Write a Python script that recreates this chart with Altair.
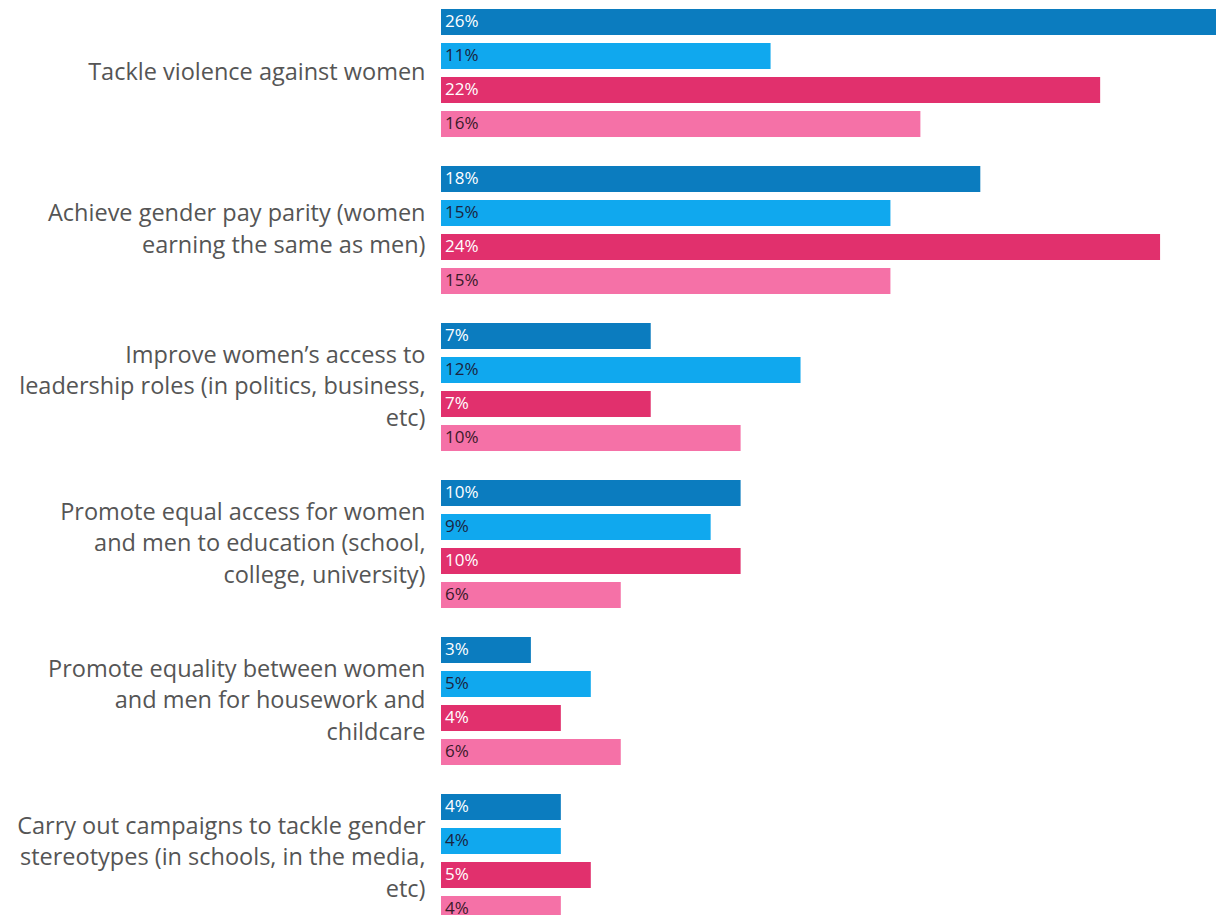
import altair as alt
import pandas as pd

categories = [
    "Tackle violence against women",
    "Achieve gender pay parity (women|earning the same as men)",
    "Improve women\u2019s access to|leadership roles (in politics, business,|etc)",
    "Promote equal access for women|and men to education (school,|college, university)",
    "Promote equality between women|and men for housework and|childcare",
    "Carry out campaigns to tackle gender|stereotypes (in schools, in the media,|etc)",
]
series = ["Series A", "Series B", "Series C", "Series D"]
values = {
    "Series A": [26, 18, 7, 10, 3, 4],
    "Series B": [11, 15, 12, 9, 5, 4],
    "Series C": [22, 24, 7, 10, 4, 5],
    "Series D": [16, 15, 10, 6, 6, 4],
}
bar_colors = ["#0b7cbf", "#10a8ee", "#e1306d", "#f571a7"]
text_colors = ["#ffffff", "#1b2440", "#ffffff", "#3a1a2a"]

rows = []
for si, s in enumerate(series):
    for ci, c in enumerate(categories):
        v = values[s][ci]
        rows.append({"category": c, "series": s, "value": v,
                     "label": f"{v}%", "tc": text_colors[si]})
df = pd.DataFrame(rows)

LH = 31.5
label_offset = {
    "condition": [
        {"test": "length(split(datum.label, '|')) == 2", "value": -LH / 2},
        {"test": "length(split(datum.label, '|')) == 3", "value": -LH},
    ],
    "value": 0,
}

y_enc = alt.Y("category:N", sort=categories,
              scale=alt.Scale(paddingInner=29 / 157, paddingOuter=0, range=[0, 913]),
              axis=alt.Axis(title=None, domain=False, ticks=False, grid=False,
                            labelExpr="split(datum.label, '|')",
                            labelFont="Open Sans", labelFontSize=23.5,
                            labelColor="#555555", labelLineHeight=LH,
                            labelPadding=16, labelLimit=440, labelAlign="right",
                            labelBaseline="middle", labelOffset=label_offset))
yoff = alt.YOffset("series:N", sort=series,
                   scale=alt.Scale(paddingInner=8 / 34, paddingOuter=0))

base = alt.Chart(df)
bars = base.mark_bar().encode(
    x=alt.X("value:Q", scale=alt.Scale(domain=[0, 26], nice=False, range=[0, 779]), axis=None),
    y=y_enc,
    yOffset=yoff,
    color=alt.Color("series:N", sort=series,
                    scale=alt.Scale(domain=series, range=bar_colors), legend=None),
)
texts = base.mark_text(align="left", baseline="middle", dx=4,
                       font="Open Sans", fontSize=17).encode(
    x=alt.datum(0),
    y=y_enc,
    yOffset=yoff,
    text="label:N",
    color=alt.Color("tc:N", scale=None),
)

chart = (bars + texts).properties(
    width=775, height=906,
    background="#ffffff",
    autosize=alt.AutoSizeParams(type="none"),
    padding={"left": 433, "top": 1, "right": 0, "bottom": 0},
).configure_view(stroke=None)

chart.save("out.html", embed_options={"renderer": "svg", "actions": False})
